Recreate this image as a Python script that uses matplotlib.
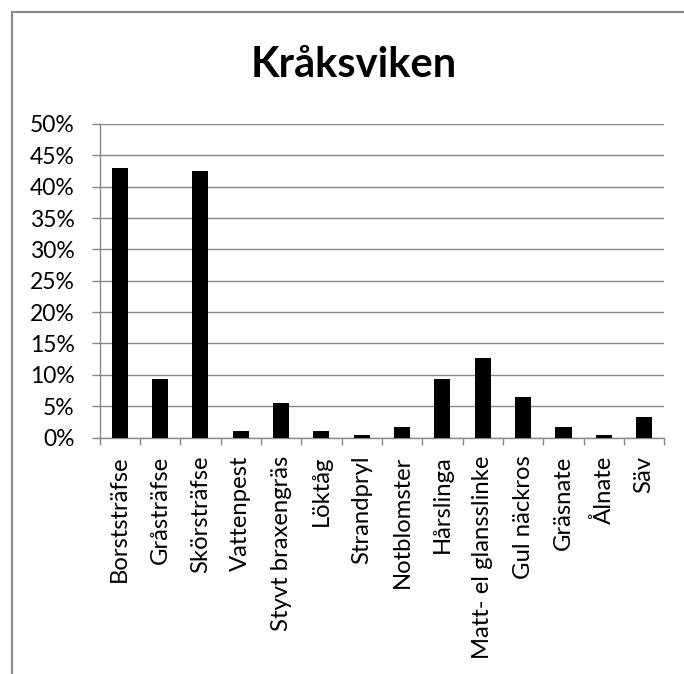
import matplotlib
matplotlib.use("Agg")
import matplotlib.pyplot as plt
from matplotlib.patches import Rectangle
from matplotlib.ticker import PercentFormatter, FixedLocator

plt.rcParams['font.family'] = ['Lato', 'DejaVu Sans']

# Share of each species at the site
species = [
    "Borststräfse", "Gråsträfse", "Skörsträfse", "Vattenpest",
    "Styvt braxengräs", "Löktåg", "Strandpryl", "Notblomster",
    "Hårslinga", "Matt- el glansslinke", "Gul näckros", "Gräsnate",
    "Ålnate", "Säv",
]
share = [0.430, 0.094, 0.425, 0.010, 0.055, 0.010, 0.004,
         0.016, 0.094, 0.126, 0.065, 0.016, 0.004, 0.033]
y_ticks = [0.00, 0.05, 0.10, 0.15, 0.20, 0.25, 0.30, 0.35, 0.40, 0.45, 0.50]
title = "Kråksviken"

W, H = 684, 674
fig = plt.figure(figsize=(W / 100, H / 100), dpi=100)
fig.patch.set_facecolor("white")

grey = "#878787"

# chart frame
fig.patches.append(Rectangle((11.5 / W, -0.1), 1.2, 1 - 12.5 / H + 0.1,
                             transform=fig.transFigure, fill=False,
                             edgecolor="#8c8c8c", linewidth=1.6))

ax = fig.add_axes([99.5 / W, 1 - 437.5 / H, (664.3 - 99.5) / W, (437.5 - 124) / H])
x = range(len(species))
ax.bar(x, share, width=0.4, color="black", zorder=3)

ax.set_xlim(-0.5, len(species) - 0.5)
ax.set_ylim(0, 0.5)
ax.set_yticks(y_ticks)
ax.yaxis.set_major_formatter(PercentFormatter(1.0, decimals=0))
ax.yaxis.grid(True, color=grey, linewidth=1.0, zorder=0)

ax.set_xticks(list(x))
ax.set_xticklabels(species, rotation=90, ha="center", va="top")
ax.xaxis.set_minor_locator(FixedLocator([i - 0.5 for i in range(len(species) + 1)]))
ax.tick_params(axis="x", which="major", length=0, pad=13, labelsize=17.2)
ax.tick_params(axis="x", which="minor", length=5, width=1, color=grey, direction="out")
ax.tick_params(axis="y", length=6, width=1, color=grey, pad=12, labelsize=16.5)

for s in ("top", "right"):
    ax.spines[s].set_visible(False)
for s in ("left", "bottom"):
    ax.spines[s].set_color(grey)
    ax.spines[s].set_linewidth(1.0)

fig.text(354 / W, 1 - 77 / H, title, ha="center", va="baseline",
         fontsize=30, fontweight="bold")

fig.savefig("out.png", dpi=100, facecolor="white")
